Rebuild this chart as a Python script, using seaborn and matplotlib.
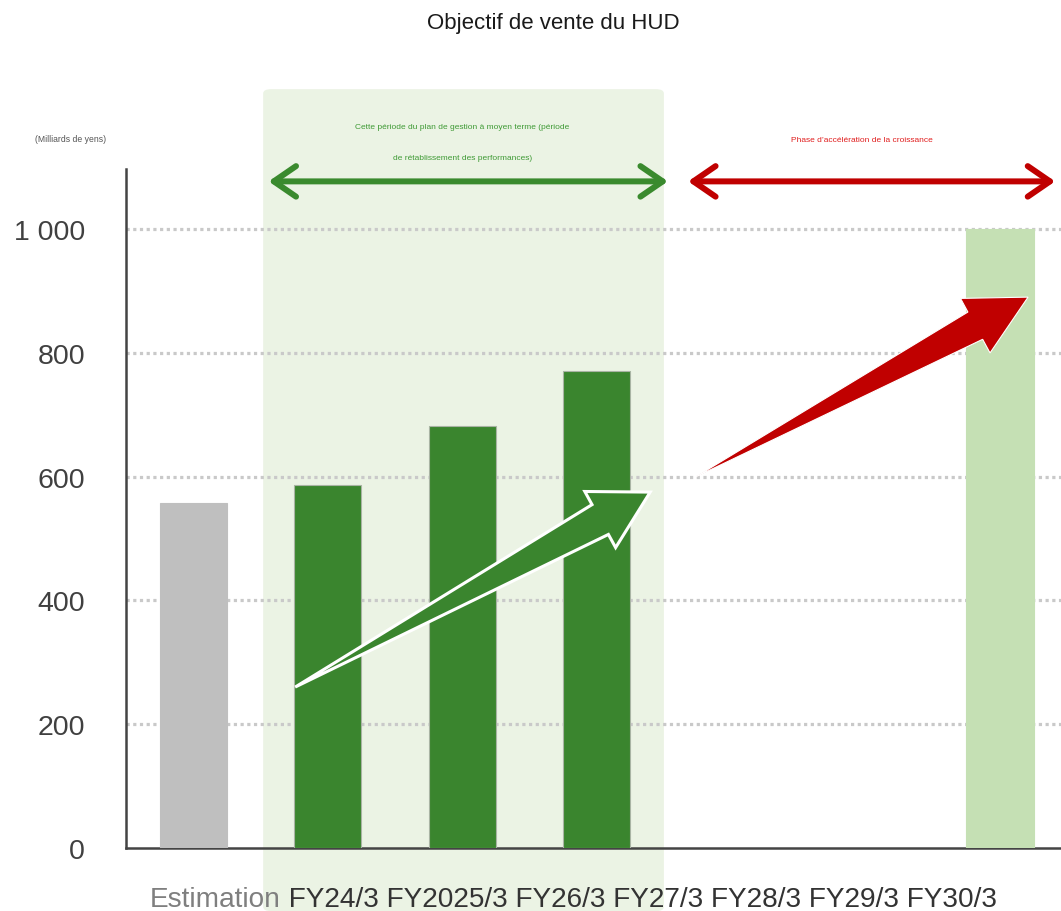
import numpy as np
import pandas as pd
import seaborn as sns
import matplotlib.pyplot as plt
from matplotlib.patches import FancyBboxPatch, FancyArrowPatch, Polygon
from matplotlib.colors import to_hex

# ---- data -------------------------------------------------------------
categories = ["FY24/3", "FY2025/3", "FY26/3", "FY27/3", "FY28/3", "FY29/3", "FY30/3"]
sales = [557, 586, 682, 771, np.nan, np.nan, 1000]
bar_colors = ["#bfbfbf", "#3a852e", "#3a852e", "#3a852e", "#3a852e", "#3a852e", "#c5e0b4"]
estimate_word = "Estimation"
y_ticks = [0, 200, 400, 600, 800, 1000]
y_tick_labels = ["0", "200", "400", "600", "800", "1 000"]

title = "Objectif de vente du HUD"
unit_label = "(Milliards de yens)"
plan_lines = ["Cette période du plan de gestion à moyen terme (période",
              "de rétablissement des performances)"]
growth_text = "Phase d’accélération de la croissance"

# ---- style ------------------------------------------------------------
sns.set_theme(style="white")
plt.rcParams["font.family"] = ["Liberation Sans", "DejaVu Sans"]

fig = plt.figure(figsize=(10.61, 9.12), dpi=100)
ax = fig.add_axes([126 / 1061, 63 / 912, 935 / 1061, 679 / 912])

df = pd.DataFrame({"period": categories, "sales": sales})
sns.barplot(data=df, x="period", y="sales", hue="period", palette=bar_colors,
            legend=False, width=0.5, saturation=1, ax=ax, zorder=3,
            edgecolor="#a9b4a4", linewidth=0.8)
# only the dark green bars keep a thin outline
for patch in ax.patches:
    fc = to_hex(patch.get_facecolor())
    if fc != "#3a852e":
        patch.set_edgecolor(fc)

ax.set_xlim(-0.5, 6.453)
ax.set_ylim(0, 1097)

# dotted horizontal gridlines
for yv in y_ticks[1:]:
    ax.axhline(yv, color="#c9c9c9", lw=2.3, ls=(0, (1, 1.1)), zorder=1)

ax.set_yticks(y_ticks)
ax.set_yticklabels(y_tick_labels, fontsize=20.5, color="#404040")
ax.tick_params(axis="y", length=0, pad=29.5)
ax.set_xticks([])
ax.set_xlabel("")
ax.set_ylabel("")

for side in ["top", "right"]:
    ax.spines[side].set_visible(False)
for side in ["left", "bottom"]:
    ax.spines[side].set_color("#444444")
    ax.spines[side].set_linewidth(1.8)

# shaded mid-term plan period (extends beyond the axes)
band = FancyBboxPatch((0.52, -102), 2.98, 1328,
                      boxstyle="round,pad=0,rounding_size=0.06",
                      mutation_aspect=1097 / 6.95 * (679 / 935),
                      facecolor="#ebf3e4", edgecolor="none",
                      zorder=0, clip_on=False, transform=ax.transData)
ax.add_patch(band)

# period labels and double-headed arrows
for yv, line in zip([1166, 1116], plan_lines):
    ax.text(2.0, yv, line, ha="center", va="center", fontsize=6.0,
            color="#3f9a35", clip_on=False)
ax.text(4.97, 1145, growth_text, ha="center", va="center", fontsize=6.0,
        color="#e01e1e", clip_on=False)

for x0, x1, col in [(0.56, 3.53, "#3a8a2e"), (3.68, 6.41, "#c00000")]:
    arr = FancyArrowPatch((x0, 1077), (x1, 1077),
                          arrowstyle="<->,head_length=16,head_width=11",
                          color=col, lw=4.3, capstyle="round",
                          joinstyle="round", clip_on=False, zorder=5,
                          shrinkA=0, shrinkB=0)
    ax.add_patch(arr)


def block_arrow(start, end, shaft_half, head_half, head_len, color, edge_lw):
    """Tapered block arrow built in pixel space, returned in data space."""
    p0 = ax.transData.transform(start)
    p1 = ax.transData.transform(end)
    d = p1 - p0
    L = np.hypot(*d)
    u = d / L
    n = np.array([-u[1], u[0]])
    base = p1 - u * head_len
    pts = [p0,
           base + n * shaft_half,
           base + n * head_half,
           p1,
           base - n * head_half,
           base - n * shaft_half]
    pts = ax.transData.inverted().transform(np.array(pts))
    poly = Polygon(pts, closed=True, facecolor=color, edgecolor="white",
                   lw=edge_lw, joinstyle="miter", zorder=6)
    ax.add_patch(poly)


block_arrow((0.758, 260), (3.398, 575), 17, 32, 57, "#3a852e", 2.2)
block_arrow((3.74, 600), (6.208, 890), 15.5, 31, 60, "#c00000", 0.8)

# titles and unit
fig.text(553.5 / 1061, 1 - 23 / 912, title, ha="center", va="center",
         fontsize=16, color="#1a1a1a")
fig.text(71 / 1061, 1 - 140 / 912, unit_label, ha="center", va="center",
         fontsize=6.2, color="#555555")

# category label row
first = fig.text(150 / 1061, 5 / 912, estimate_word, ha="left",
                 va="baseline", fontsize=20.2, color="#7f7f7f")
ax.annotate(" " + " ".join(categories), xy=(1, 0), xycoords=first,
            ha="left", va="bottom", fontsize=20.2, color="#333333",
            annotation_clip=False)

fig.savefig("out.png", dpi=100)
